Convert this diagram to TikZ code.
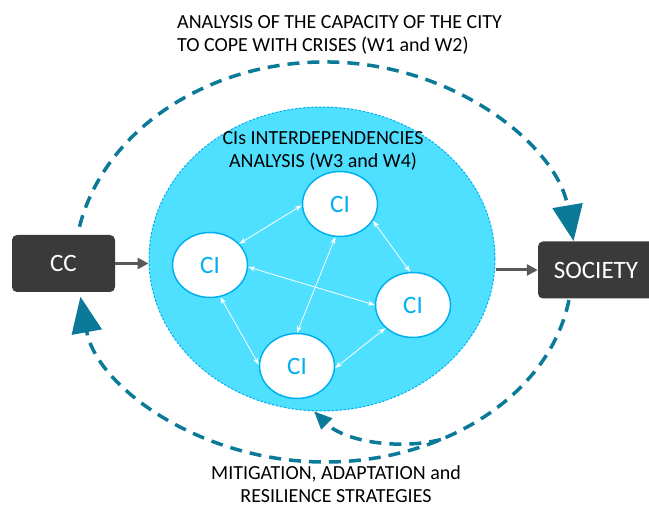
\documentclass[tikz,border=0pt]{standalone}
\usepackage{fontspec}
\setmainfont{Carlito}
\usetikzlibrary{arrows.meta,shapes.geometric}
\definecolor{loopblue}{RGB}{10,122,152}
\definecolor{cifill}{RGB}{80,224,255}
\definecolor{cicyan}{RGB}{0,176,240}
\definecolor{boxgrey}{RGB}{58,58,58}
\definecolor{linkgrey}{RGB}{89,89,89}
\begin{document}
\begin{tikzpicture}[x=1pt,y=1pt,
    box/.style={fill=boxgrey,rounded corners=5pt,text=white,font=\fontsize{25}{30}\selectfont,minimum height=57pt},
    ci/.style={ellipse,draw=cicyan,line width=1.5pt,fill=white,text=cicyan,font=\fontsize{25}{30}\selectfont,minimum width=75pt,minimum height=65pt,inner sep=0pt},
    heading/.style={font=\fontsize{20}{23}\selectfont,inner sep=0pt},
    cycleline/.style={draw=loopblue,line width=3.5pt,dash pattern=on 12pt off 8pt},
    feed/.style={draw=linkgrey,line width=3pt,-{Triangle[length=11pt,width=11pt]}}]
  \useasboundingbox (0,0) rectangle (649,508);
  \node[ellipse,draw=cicyan,fill=cifill,line width=1pt,dash pattern=on 2.5pt off 1.5pt,
        minimum width=346pt,minimum height=304pt] (cis) at (322,249) {};
  \node[heading,align=center] (cistitle) at (323,357) {CIs INTERDEPENDENCIES\\ANALYSIS (W3 and W4)};
  \node[ci] (ci1) at (340,304) {CI};
  \node[ci] (ci2) at (210,243) {CI};
  \node[ci] (ci3) at (413,203) {CI};
  \node[ci] (ci4) at (297,142) {CI};
  \node[box,minimum width=103pt] (cc) at (63.5,244.5) {CC};
  \node[box,minimum width=116pt] (society) at (596,238) {SOCIETY};
  \node[heading,align=left,anchor=west] (toptitle) at (177,473)
    {ANALYSIS OF THE CAPACITY OF THE CITY\\TO COPE WITH CRISES (W1 and W2)};
  \node[heading,align=center,anchor=south] (bottitle) at (336,5)
    {MITIGATION, ADAPTATION and\\RESILIENCE STRATEGIES};

  \draw[feed] (cc.east) -- (cc.east -| cis.west);
  \draw[feed] (cis.east |- society.west) -- (society.west);

  % interdependencies
  \begin{scope}[white,line width=0.8pt,{Stealth[length=7pt,width=5pt]}-{Stealth[length=7pt,width=5pt]}]
    \draw (ci2.36) to (ci1.182);
    \draw (ci1.333) to (ci3.95);
    \draw (ci2.357) to (ci3.180);
    \draw (ci1.262) to (ci4.90);
    \draw (ci2.288) to (ci4.178);
    \draw (ci4.357) to (ci3.220);
  \end{scope}

  % loops
  \coordinate (hub) at (325,238);
  \coordinate (split) at ([shift={(298:247 and 192)}]hub);
  \draw[cycleline,-{Triangle[length=36pt,width=30pt]}] ([shift={(168:251 and 208)}]hub)
    arc[start angle=168,end angle=8,x radius=251,y radius=208];
  \draw[cycleline,-{Triangle[length=36pt,width=30pt]}] ([shift={(351:247 and 192)}]hub)
    arc[start angle=351,end angle=188,x radius=247,y radius=192];
  \draw[cycleline,-{Triangle[length=18pt,width=15pt]}] (split) .. controls (400,58) and (345,66) .. (cis.267);
\end{tikzpicture}
\end{document}
